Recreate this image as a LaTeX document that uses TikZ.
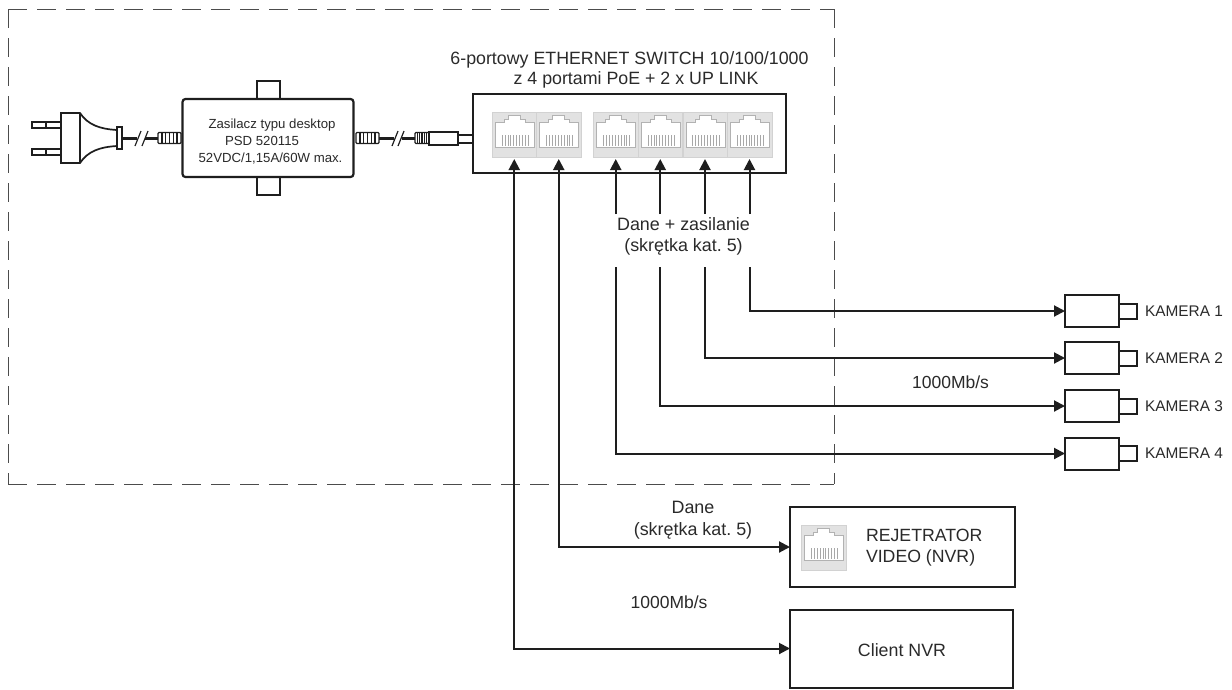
\documentclass[tikz,border=0pt]{standalone}
\usepackage{fontspec}
\setmainfont{Liberation Sans}
\frenchspacing
\usetikzlibrary{arrows.meta}
\definecolor{ink}{HTML}{1E1E1E}
\definecolor{txt}{HTML}{2A2A2A}
\definecolor{portgray}{HTML}{E2E2E2}
\definecolor{pingray}{HTML}{A8A8A8}
\newcommand{\portbody}[2]{%
  \begin{scope}[shift={(#1,#2)}]
    \fill[white] (3,35) -- (3,10) -- (12,10) -- (12,7) -- (16,7) -- (16,3) -- (28,3) -- (28,7) -- (33,7) -- (33,10) -- (42,10) -- (42,35) -- cycle;
    \draw[gray!60,line width=.5pt] (3,35) -- (3,10) -- (12,10) -- (12,7) -- (16,7) -- (16,3) -- (28,3) -- (28,7) -- (33,7) -- (33,10) -- (42,10) -- (42,35) -- cycle;
    \foreach \k in {0,...,9} \draw[pingray,line width=.6pt] ({10+\k*2.9},23) -- ({10+\k*2.9},34);
  \end{scope}}
\newcommand{\ribs}[3]{% x0, x1, yc
  \fill[white] (#1,#3-6) rectangle (#2,#3+6);
  \draw[ink,line width=1.4pt,rounded corners=1pt] (#1,#3-5.5) rectangle (#2,#3+5.5);
  \foreach \k in {1,...,5} \draw[ink,line width=1.6pt] ({#1+(#2-#1)*\k/6},#3-6) -- ({#1+(#2-#1)*\k/6},#3+6);}
\tikzset{
  x=1pt,y=-1pt,
  every node/.style={text=txt,inner sep=0pt,outer sep=0pt},
  boxed/.style={draw=ink,line width=2.2pt,fill=white,inner sep=0pt},
  thin box/.style={draw=ink,line width=2pt,fill=white,inner sep=0pt},
  port/.style={fill=portgray,draw=gray!35,line width=.5pt,minimum width=44.5pt,minimum height=45pt,inner sep=0pt},
  conn/.style={draw=ink,line width=2pt,-{Triangle[length=11pt,width=11pt]}},
  twoway/.style={draw=ink,line width=2pt,{Triangle[length=11pt,width=11pt]}-{Triangle[length=11pt,width=11pt]}},
  frame/.style={draw=black!70,line width=1pt,dash pattern=on 19pt off 10pt},
  cable/.style={draw=ink,line width=3pt},
  lbl/.style={font=\fontsize{17.8}{20}\selectfont,align=center},
  smalllbl/.style={font=\fontsize{15.4}{18}\selectfont},
  adlbl/.style={font=\fontsize{13.2}{17}\selectfont}
}
\begin{document}
\begin{tikzpicture}
\useasboundingbox (0,0) rectangle (1232,689);
% frame
\draw[frame] (8,9) -- (834,9);
\draw[frame] (8,9) -- (8,484);
\draw[frame] (8,484) -- (834,484);
\draw[frame] (834,9) -- (834,484);
% plug
\draw[ink,line width=1.6pt,fill=white] (32,122) rectangle (61,128);
\draw[ink,line width=1.6pt,fill=white] (32,149) rectangle (61,155);
\draw[ink,line width=1.2pt] (46,122) -- (46,128) (46,149) -- (46,155);
\draw[ink,line width=1.7pt,fill=white] (61,113) -- (80,113) .. controls (88,125) and (100,129) .. (117,130) -- (117,146) .. controls (100,147) and (88,151) .. (80,163) -- (61,163) -- cycle;
\draw[ink,line width=1.6pt] (80,113) -- (80,163);
\draw[ink,line width=1.7pt,fill=white] (117,127) rectangle (122,149);
\draw[cable] (122,138) -- (137,138);
\draw[ink,line width=1.2pt] (135,146) -- (141,131) (142,146) -- (148,131);
\draw[cable] (145,138) -- (158,138);
\ribs{158}{181}{138}
% adapter
\draw[ink,line width=2pt,fill=white] (257,81) rectangle (280,195);
\node[boxed,rounded corners=3pt,minimum width=171pt,minimum height=78pt] (psu) at (268,138) {};
\node[adlbl,align=center] (psutext) at (270.5,142) {\hspace*{3pt}Zasilacz typu desktop\\\hspace*{-17pt}PSD 520115\\52VDC/1,15A/60W max.};
\ribs{356}{379}{138}
\draw[cable] (379,138) -- (394,138);
\draw[ink,line width=1.2pt] (392,146) -- (398,131) (398,146) -- (404,131);
\draw[cable] (402,138) -- (415,138);
\ribs{415}{429}{138}
\draw[ink,line width=1.3pt,fill=white] (429,132) rectangle (458,145);
\draw[ink,line width=1.3pt,fill=white] (458,135) rectangle (473,143);
% switch
\node[thin box,minimum width=313pt,minimum height=79pt] (sw) at (629.5,133.5) {};
\node[lbl] (swtitle) at (629.5,70) {6-portowy ETHERNET SWITCH 10/100/1000\\\hspace*{13pt}z 4 portami PoE + 2 x UP LINK};
\node[port] (p1) at (514.25,134.5) {}; \portbody{492}{112}
\node[port] (p2) at (558.75,134.5) {}; \portbody{536.5}{112}
\node[port] (p3) at (615.75,134.5) {}; \portbody{593.5}{112}
\node[port] (p4) at (660.25,134.5) {}; \portbody{638}{112}
\node[port] (p5) at (705,134.5) {}; \portbody{682.75}{112}
\node[port] (p6) at (749.5,134.5) {}; \portbody{727.25}{112}
% cameras
\foreach \n/\y in {1/311,2/358,3/406,4/453.5}{
  \draw[ink,line width=2pt,fill=white] (1119,\y-7.5) rectangle (1137,\y+7.5);
  \node[thin box,minimum width=54pt,minimum height=32pt] (cam\n) at (1092,\y) {};
  \node[smalllbl,anchor=west] (camlbl\n) at (1145,\y) {KAMERA \n};
}
% recorders
\node[thin box,minimum width=225pt,minimum height=80pt] (nvr) at (902.5,547) {};
\node[port] (p7) at (823.5,547.5) {}; \portbody{801.25}{525}
\node[lbl,align=left,anchor=west,font=\fontsize{17.7}{21.5}\selectfont] (nvrtext) at (866,547.5) {REJETRATOR\\VIDEO (NVR)};
\node[thin box,minimum width=223pt,minimum height=78pt] (client) at (901.5,648.5) {};
\node[lbl,font=\fontsize{17.8}{20}\selectfont] (clienttext) at (902,650) {Client NVR};
% labels
\node[lbl,font=\fontsize{17.9}{21}\selectfont] (dz) at (683.5,236.5) {Dane + zasilanie\\(skrętka kat. 5)};
\node[lbl,font=\fontsize{17.9}{22}\selectfont] (d) at (693,520) {Dane\\(skrętka kat. 5)};
\node[lbl,font=\fontsize{17.5}{20}\selectfont] (r1) at (950.5,382) {1000Mb/s};
\node[lbl,font=\fontsize{17.5}{20}\selectfont] (r2) at (669,602) {1000Mb/s};
% connectors
\coordinate (up3) at (p3.south |- 0,214);
\coordinate (up4) at (p4.south |- 0,214);
\coordinate (up5) at (p5.south |- 0,214);
\coordinate (up6) at (p6.south |- 0,214);
\coordinate (dn3) at (p3.south |- 0,267);
\coordinate (dn4) at (p4.south |- 0,267);
\coordinate (dn5) at (p5.south |- 0,267);
\coordinate (dn6) at (p6.south |- 0,267);
\foreach \n in {3,4,5,6} \draw[conn,shorten >=2pt] (up\n) -- (p\n.south);
\draw[conn] (dn6) |- (cam1.west);
\draw[conn] (dn5) |- (cam2.west);
\draw[conn] (dn4) |- (cam3.west);
\draw[conn] (dn3) |- (cam4.west);
\draw[twoway,shorten <=2pt] (p2.south) |- (nvr.west);
\draw[twoway,shorten <=2pt] (p1.south) |- (client.west);
\end{tikzpicture}
\end{document}
